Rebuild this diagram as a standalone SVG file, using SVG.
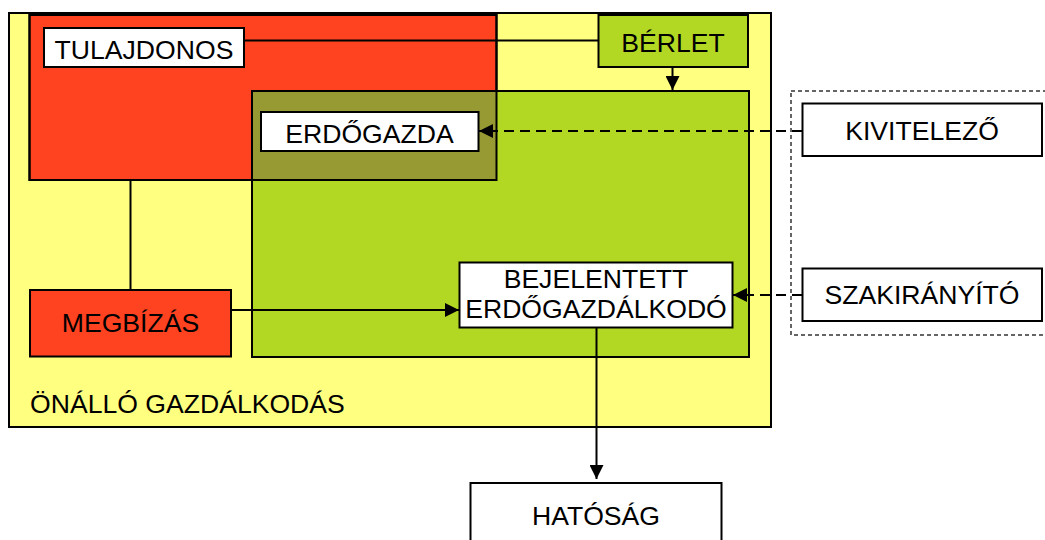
<svg xmlns="http://www.w3.org/2000/svg" width="1045" height="540" viewBox="0 0 1045 540">
<style>
  .box{stroke:#000;stroke-width:2}
  .lbl{font-family:"Liberation Sans",Arial,sans-serif;font-size:26.6px;fill:#000;text-anchor:middle}
  .line{stroke:#000;stroke-width:2;fill:none}
  .dash{stroke:#000;stroke-width:2;fill:none;stroke-dasharray:10 6}
</style>
<defs>
  <marker id="ah" viewBox="0 0 14 14" refX="14" refY="7" markerWidth="14" markerHeight="14" markerUnits="userSpaceOnUse" orient="auto">
    <path d="M0,0 L14,7 L0,14 Z" fill="#000"/>
  </marker>
</defs>
<g id="onallo">
  <rect class="box" x="9" y="13" width="762" height="414" fill="#FFFF80" stroke="#333"/>
  <text class="lbl" x="30" y="413" style="text-anchor:start">ÖNÁLLÓ GAZDÁLKODÁS</text>
</g>
<g id="szolgaltatok">
  <rect x="791" y="91" width="270" height="244" fill="none" stroke="#333" stroke-width="1.5" stroke-dasharray="4 3"/>
</g>
<g id="tulajdon-terulet">
  <rect class="box" x="29.5" y="15" width="467" height="165" fill="#FF4220"/>
</g>
<g id="berlet-terulet">
  <rect class="box" x="252" y="91" width="497" height="266" fill="#B3D823"/>
  <rect x="252" y="91" width="244.5" height="89" fill="#979A32"/>
  <rect x="29.5" y="15" width="467" height="165" fill="none" stroke="#000" stroke-width="2"/>
  <rect x="252" y="91" width="497" height="266" fill="none" stroke="#000" stroke-width="2"/>
</g>
<g id="connectors">
  <line class="line" x1="244" y1="40.5" x2="598" y2="40.5"/>
  <line class="line" x1="130.5" y1="180" x2="130.5" y2="290"/>
  <line class="line" x1="672.5" y1="67" x2="672.5" y2="90" marker-end="url(#ah)"/>
  <line class="line" x1="231" y1="310" x2="459" y2="310" marker-end="url(#ah)"/>
  <line class="line" x1="596.5" y1="327" x2="596.5" y2="479" marker-end="url(#ah)"/>
  <line class="dash" x1="802" y1="131" x2="479" y2="131" marker-end="url(#ah)"/>
  <line class="dash" x1="802" y1="295" x2="733" y2="295" marker-end="url(#ah)"/>
</g>
<g id="tulajdonos">
  <rect class="box" x="44" y="28" width="200" height="39" fill="#fff"/>
  <text class="lbl" x="144" y="59">TULAJDONOS</text>
</g>
<g id="berlet">
  <rect class="box" x="598.5" y="15" width="149.5" height="52" fill="#B3D823"/>
  <text class="lbl" x="673" y="52">BÉRLET</text>
</g>
<g id="erdogazda">
  <rect class="box" x="261" y="112" width="217.5" height="39" fill="#fff"/>
  <text class="lbl" x="369.5" y="143">ERDŐGAZDA</text>
</g>
<g id="kivitelezo">
  <rect class="box" x="802.5" y="103.5" width="239.5" height="52.5" fill="#fff"/>
  <text class="lbl" x="922" y="140">KIVITELEZŐ</text>
</g>
<g id="megbizas">
  <rect class="box" x="30" y="290" width="201" height="66.5" fill="#FF4220"/>
  <text class="lbl" x="130.5" y="332">MEGBÍZÁS</text>
</g>
<g id="bejelentett">
  <rect class="box" x="459.5" y="262.5" width="273" height="65" fill="#fff"/>
  <text class="lbl" x="596" y="288">BEJELENTETT</text>
  <text class="lbl" x="596" y="318">ERDŐGAZDÁLKODÓ</text>
</g>
<g id="szakiranyito">
  <rect class="box" x="802.5" y="268.5" width="239.5" height="52.5" fill="#fff"/>
  <text class="lbl" x="922" y="304">SZAKIRÁNYÍTÓ</text>
</g>
<g id="hatosag">
  <rect class="box" x="470.5" y="483" width="251" height="70" fill="#fff"/>
  <text class="lbl" x="596" y="525">HATÓSÁG</text>
</g>
</svg>
